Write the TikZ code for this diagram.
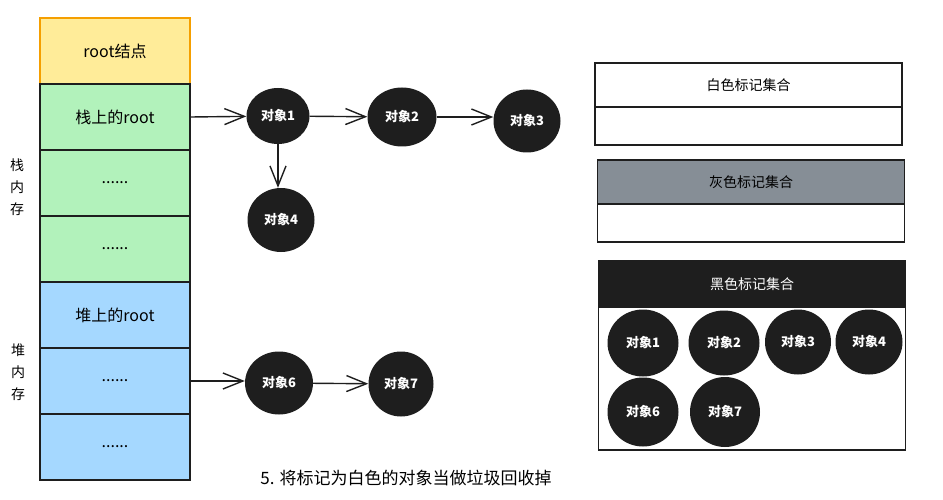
\documentclass[tikz,border=0pt]{standalone}
\usepackage{fontspec}
\setmainfont{Noto Sans CJK SC}
\usepackage{xcolor}
\usetikzlibrary{shapes.geometric, arrows.meta, positioning}

\definecolor{rootfill}{HTML}{FFEC99}
\definecolor{rootline}{HTML}{F59F00}
\definecolor{stackfill}{HTML}{B2F2BB}
\definecolor{heapfill}{HTML}{A5D8FF}
\definecolor{objfill}{HTML}{1E1E1E}
\definecolor{grayfill}{HTML}{868E96}

\begin{document}
\begin{tikzpicture}[
  x=1pt, y=-1pt,
  cell/.style={rectangle, draw=objfill, line width=1.2pt, minimum width=150pt, minimum height=66pt, fill=#1, font=\fontsize{16}{18}\selectfont},
  obj/.style={ellipse, fill=objfill, text=white, inner sep=0pt, minimum width=66pt, minimum height=63pt, font=\bfseries\fontsize{13}{15}\selectfont},
  sethead/.style={rectangle, draw=objfill, line width=1.2pt, minimum width=307pt, minimum height=44pt, fill=#1, font=\fontsize{14}{16}\selectfont},
  setbody/.style={rectangle, draw=objfill, line width=1.2pt, minimum width=307pt, minimum height=38pt, fill=white},
  arrow/.style={-{Straight Barb[length=20pt, width=16pt]}, line width=1.4pt, draw=objfill}
]
  \useasboundingbox (0,0) rectangle (943,500);

  % memory column
  \node[cell=rootfill, draw=rootline] (c0) at (115,51) {root结点};
  \node[cell=stackfill] (c1) at (115,117) {栈上的root};
  \node[cell=stackfill] (c2) at (115,183) {......};
  \node[cell=stackfill] (c3) at (115,249) {......};
  \node[cell=heapfill] (c4) at (115,315) {堆上的root};
  \node[cell=heapfill] (c5) at (115,381) {......};
  \node[cell=heapfill] (c6) at (115,447) {......};

  \node[align=center, font=\fontsize{14}{22}\selectfont] (stk) at (17,187) {栈\\内\\存};
  \node[align=center, font=\fontsize{14}{22}\selectfont] (hp) at (18,372) {堆\\内\\存};

  % object graph
  \node[obj, minimum width=63pt, minimum height=56pt] (o1) at (278,116) {对象1};
  \node[obj, minimum width=69pt, minimum height=59pt] (o2) at (402,117) {对象2};
  \node[obj, minimum width=67pt, minimum height=63pt] (o3) at (527,121) {对象3};
  \node[obj, minimum width=67pt, minimum height=64pt] (o4) at (281,220) {对象4};
  \node[obj, minimum width=68pt, minimum height=63pt] (o6) at (279,383) {对象6};
  \node[obj, minimum width=65pt, minimum height=65pt] (o7) at (401,384) {对象7};

  \draw[arrow] (c1.east) -- (o1);
  \draw[arrow] (o1) -- (o2);
  \draw[arrow] (o2) -- (o2 -| o3.west);
  \draw[arrow] (o1) -- (o1 |- o4.north);
  \draw[arrow] (c5.east) -- (c5.east -| o6.west);
  \draw[arrow] (o6) -- (o7);

  \node[font=\fontsize{17}{19}\selectfont] (cap) at (406,478) {5. 将标记为白色的对象当做垃圾回收掉};

  % mark sets
  \node[sethead=white] (wh) at (748.5,85) {白色标记集合};
  \node[setbody] (wb) at (748.5,126) {};
  \node[sethead=grayfill] (gh) at (751,182) {灰色标记集合};
  \node[setbody] (gb) at (751,223) {};
  \node[sethead=objfill, minimum height=46pt, text=white] (bh) at (752,284) {黑色标记集合};
  \node[setbody, minimum height=143pt] (bb) at (752,378.5) {};

  \node[obj, minimum width=71pt, minimum height=67pt] (b1) at (643,343) {对象1};
  \node[obj, minimum width=71pt, minimum height=65pt] (b2) at (724,343) {对象2};
  \node[obj, minimum width=66pt, minimum height=65pt] (b3) at (798,342) {对象3};
  \node[obj, minimum width=67pt, minimum height=65pt] (b4) at (869,342) {对象4};
  \node[obj, minimum width=71pt, minimum height=69pt] (b6) at (643,412) {对象6};
  \node[obj, minimum width=70pt, minimum height=70pt] (b7) at (725,412) {对象7};
\end{tikzpicture}
\end{document}
